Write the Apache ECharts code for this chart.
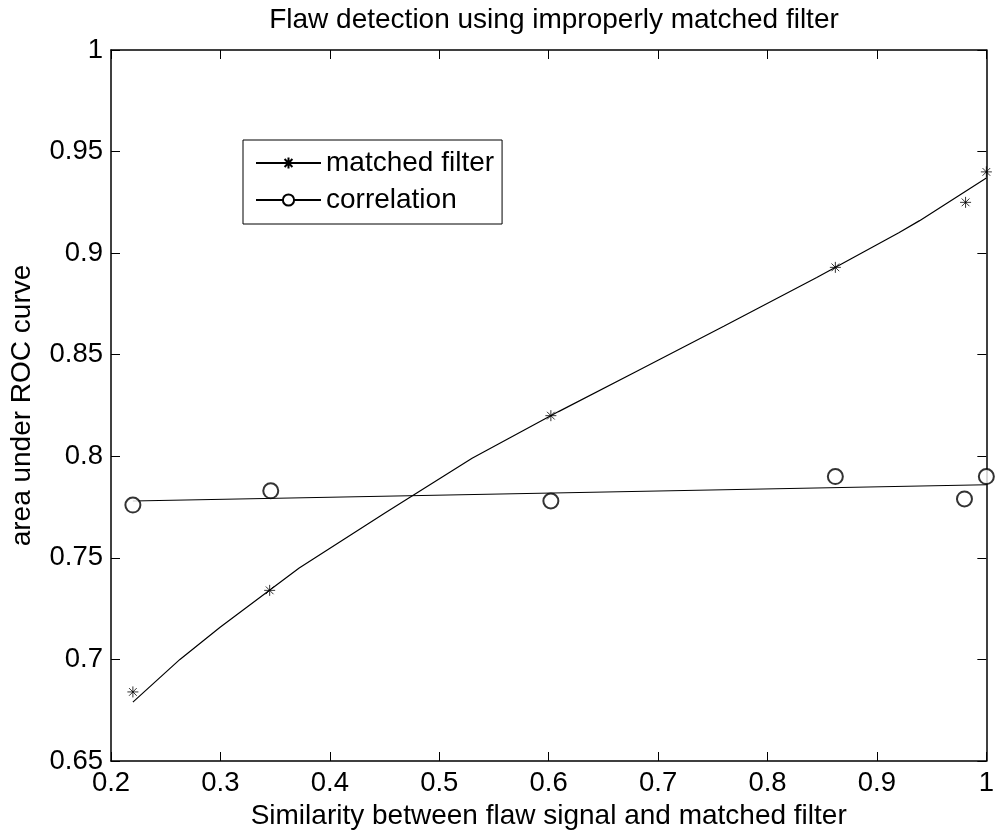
<!DOCTYPE html>
<html>
<head>
<meta charset="utf-8">
<script src="https://cdn.jsdelivr.net/npm/echarts@6/dist/echarts.min.js"></script>
<style>
html,body{margin:0;padding:0;background:#fff;}
#chart{width:997px;height:835px;}
</style>
</head>
<body>
<div id="chart"></div>
<script>
// Measured points
const mfX = [0.22, 0.345, 0.602, 0.862, 0.981, 1.0];
const mfY = [0.684, 0.734, 0.820, 0.893, 0.925, 0.940];
const corrX = [0.22, 0.346, 0.602, 0.862, 0.98, 1.0];
const corrY = [0.776, 0.783, 0.778, 0.790, 0.779, 0.790];
// Fitted curves
const mfFitX = [0.22, 0.263, 0.3, 0.372, 0.45, 0.53, 0.609, 0.681, 0.76, 0.845, 0.92, 0.939, 1.0];
const mfFitY = [0.679, 0.700, 0.716, 0.745, 0.772, 0.799, 0.822, 0.842, 0.864, 0.888, 0.910, 0.916, 0.937];
const corrFitX = [0.22, 1.0];
const corrFitY = [0.778, 0.786];

const titleText = 'Flaw detection using improperly matched filter';
const xName = 'Similarity between flaw signal and matched filter';
const yName = 'area under ROC curve';

const zip = (a, b) => a.map((v, i) => [v, b[i]]);
const FONT = '"Liberation Sans", Arial, Helvetica, sans-serif';
const FS = 28;
const TFS = 27.5;
const star = 'path://M0,5 L10,5 M5,0 L5,10 M1.5,1.5 L8.5,8.5 M1.5,8.5 L8.5,1.5';

const chart = echarts.init(document.getElementById('chart'), null, {renderer: 'canvas'});
const axisCommon = {
  axisLine: {show: true, onZero: false, lineStyle: {color: '#000', width: 1.5}},
  axisTick: {show: true, inside: true, length: 9, lineStyle: {color: '#000', width: 1}},
  splitLine: {show: false}
};
chart.setOption({
  animation: false,
  backgroundColor: '#fff',
  textStyle: {fontFamily: FONT},
  title: {
    text: titleText, left: 549, top: 1, textAlign: 'center',
    textStyle: {fontFamily: FONT, fontSize: FS, fontWeight: 'normal', color: '#000'}
  },
  grid: {left: 111, right: 7, top: 50, bottom: 74, containLabel: false},
  legend: {
    orient: 'vertical', left: 243, top: 140,
    padding: [8, 8, 9, 12], itemGap: 7, itemWidth: 65, itemHeight: 14,
    borderColor: '#000', borderWidth: 1, backgroundColor: '#fff',
    textStyle: {fontFamily: FONT, fontSize: FS, color: '#000', lineHeight: 30},
    data: ['matched filter', 'correlation']
  },
  xAxis: [
    Object.assign({}, axisCommon, {
      type: 'value', min: 0.2, max: 1, interval: 0.1, position: 'bottom',
      name: xName, nameLocation: 'middle', nameGap: 41,
      nameTextStyle: {fontFamily: FONT, fontSize: FS, color: '#000'},
      axisLabel: {fontFamily: FONT, fontSize: TFS, color: '#000', margin: 8}
    }),
    Object.assign({}, axisCommon, {
      type: 'value', min: 0.2, max: 1, interval: 0.1, position: 'top',
      axisLabel: {show: false}
    })
  ],
  yAxis: [
    Object.assign({}, axisCommon, {
      type: 'value', min: 0.65, max: 1, interval: 0.05, position: 'left',
      name: yName, nameLocation: 'middle', nameGap: 75, nameRotate: 90,
      nameTextStyle: {fontFamily: FONT, fontSize: FS, color: '#000'},
      axisLabel: {fontFamily: FONT, fontSize: TFS, color: '#000', margin: 8}
    }),
    Object.assign({}, axisCommon, {
      type: 'value', min: 0.65, max: 1, interval: 0.05, position: 'right',
      axisLabel: {show: false}
    })
  ],
  series: [
    {
      name: 'matched filter', type: 'line', data: zip(mfFitX, mfFitY),
      showSymbol: false, symbol: star, symbolSize: 11,
      itemStyle: {color: '#000', borderColor: '#000', borderWidth: 1},
      lineStyle: {color: '#000', width: 1.2}, silent: true, z: 3
    },
    {
      name: 'correlation', type: 'line', data: zip(corrFitX, corrFitY),
      showSymbol: false, symbol: 'emptyCircle', symbolSize: 14,
      itemStyle: {color: '#000', borderColor: '#000', borderWidth: 1},
      lineStyle: {color: '#000', width: 1.2}, silent: true, z: 3
    },
    {
      name: 'mf points', type: 'scatter', data: zip(mfX, mfY),
      symbol: star, symbolSize: 11,
      itemStyle: {color: '#000', borderColor: '#000', borderWidth: 1}, z: 4
    },
    {
      name: 'corr points', type: 'scatter', data: zip(corrX, corrY),
      symbol: 'emptyCircle', symbolSize: 15,
      itemStyle: {color: '#000', borderColor: '#000', borderWidth: 1}, z: 4
    }
  ]
});
</script>
</body>
</html>
